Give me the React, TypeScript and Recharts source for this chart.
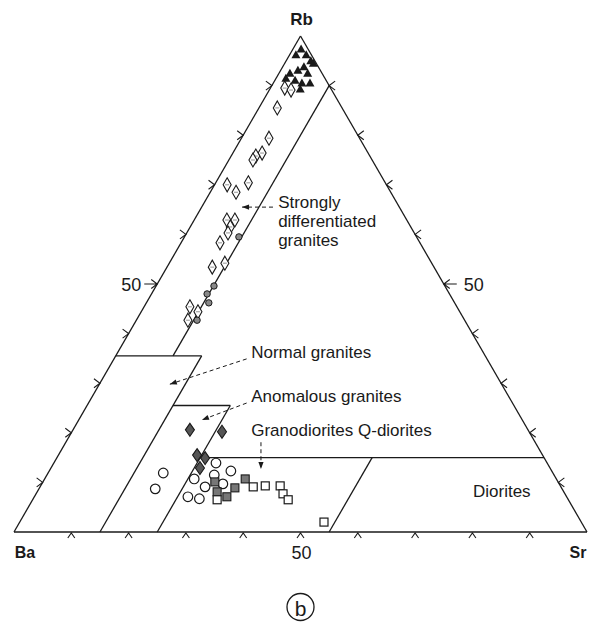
import React from 'react';
import { ScatterChart, Scatter, XAxis, YAxis, ReferenceLine, ReferenceDot } from 'recharts';

// Ternary compositions [Ba, Sr, Rb] in %
type T = [number, number, number];

const filledTriangles: T[] = [
  [1.2, 1.4, 97.4], [2.7, 1.1, 96.2], [0.9, 2.9, 96.2], [0.7, 4.3, 95.0], [0.5, 5.0, 94.5],
  [2.5, 3.7, 93.8], [3.9, 3.0, 93.1], [2.5, 5.0, 92.5], [5.6, 1.9, 92.5], [6.8, 1.7, 91.5],
  [5.4, 3.5, 91.1], [4.5, 5.0, 90.5], [3.1, 6.4, 90.5], [5.4, 5.3, 89.3],
];
const openDiamonds: T[] = [
  [8.0, 2.5, 89.5], [7.1, 3.8, 89.1], [11.3, 3.2, 85.5], [15.8, 4.8, 79.4], [18.5, 5.1, 76.4],
  [19.9, 4.3, 75.8], [20.8, 4.2, 75.0], [27.8, 2.2, 70.0], [23.9, 5.7, 70.4], [27.0, 4.5, 68.5],
  [31.4, 5.7, 62.9], [30.0, 7.1, 62.9], [31.5, 7.0, 61.5], [32.5, 7.2, 60.3], [34.9, 6.8, 58.3],
  [38.7, 7.9, 53.4], [36.1, 9.7, 54.2], [46.6, 8.0, 45.4], [45.7, 9.9, 44.4], [48.3, 9.0, 42.7],
];
const shadedDots: T[] = [
  [31.0, 9.5, 59.5], [40.3, 10.1, 49.6], [42.3, 9.7, 48.0], [42.9, 10.9, 46.2], [46.7, 10.6, 42.7],
];
const shadedDiamonds: T[] = [
  [59.0, 20.4, 20.6], [53.6, 26.2, 20.2], [60.3, 24.2, 15.5], [59.2, 25.9, 14.9], [61.1, 26.0, 12.9],
];
const openCircles: T[] = [
  [57.8, 28.3, 13.9], [68.0, 20.1, 11.9], [71.0, 20.3, 8.7], [63.2, 26.1, 10.7], [59.3, 29.2, 11.5],
  [56.0, 31.7, 12.3], [62.1, 28.8, 9.1], [58.7, 31.6, 9.7], [66.1, 26.8, 7.1], [64.3, 29.0, 6.7],
];
const shadedSquares: T[] = [
  [59.9, 30.0, 10.1], [60.5, 31.4, 8.1], [59.3, 33.6, 7.1], [57.0, 34.1, 8.9], [54.3, 35.0, 10.7],
];
const openSquares: T[] = [
  [61.3, 32.2, 6.5], [53.7, 37.2, 9.1], [51.5, 39.2, 9.3], [48.9, 41.8, 9.3], [49.2, 43.1, 7.7],
  [48.9, 44.6, 6.5], [44.9, 53.1, 2.0],
];

// Triangle corners and field boundaries [Ba, Sr, Rb]
const corners: T[] = [[100, 0, 0], [0, 100, 0], [0, 0, 100]];
const fieldBoundaries: [T, T][] = [
  [[0, 10, 90], [54.5, 10, 35.5]],
  [[64.5, 0, 35.5], [49.5, 15, 35.5]],
  [[49.5, 15, 35.5], [85, 15, 0]],
  [[59.5, 15, 25.5], [49.5, 25, 25.5]],
  [[49.5, 25, 25.5], [75, 25, 0]],
  [[60, 25, 15], [0, 85, 15]],
  [[30, 55, 15], [45, 55, 0]],
];

const tickPercents = [10, 20, 30, 40, 50, 60, 70, 80, 90];
const labelledTick = 50;
const cornerNames = ['Ba', 'Sr', 'Rb'];
const panelLetter = 'b';

// Annotations (chart coords: x = Sr + Rb/2, y = Rb)
const fieldLabels: { lines: string[]; at: [number, number] }[] = [
  { lines: ['Strongly', 'differentiated', 'granites'], at: [46.1, 66.5] },
  { lines: ['Normal granites'], at: [41.4, 36.1] },
  { lines: ['Anomalous granites'], at: [41.4, 27.4] },
  { lines: ['Granodiorites Q-diorites'], at: [41.4, 20.4] },
  { lines: ['Diorites'], at: [80.1, 8.1] },
];
const leaders: [[number, number], [number, number]][] = [
  [[45.2, 65.5], [39.8, 65.5]],
  [[40.6, 34.9], [27.2, 29.8]],
  [[40.6, 26.0], [32.8, 22.6]],
  [[43.1, 18.1], [43.1, 12.7]],
];

const W = 598, H = 635;
const M = { top: 36, right: 11, bottom: 103, left: 14 };
const UX = (W - M.left - M.right) / 100;
const UY = (H - M.top - M.bottom) / 100;
const INK = '#1a1a1a';
const FONT = '"Liberation Sans", Arial, Helvetica, sans-serif';

const toXY = (t: T) => {
  const s = t[0] + t[1] + t[2];
  return { x: ((t[1] + t[2] / 2) * 100) / s, y: (t[2] * 100) / s };
};
const series = (arr: T[]) => arr.map(toXY);

const TriangleShape = (p: any) => (
  <path d={`M${p.cx},${p.cy - 4.5}L${p.cx + 4.5},${p.cy + 3.5}L${p.cx - 4.5},${p.cy + 3.5}Z`} fill={INK} />
);
const OpenDiamondShape = (p: any) => (
  <g>
    <path d={`M${p.cx},${p.cy - 7}L${p.cx + 4},${p.cy}L${p.cx},${p.cy + 7}L${p.cx - 4},${p.cy}Z`} fill="#fff" stroke={INK} strokeWidth={1.1} />
    <line x1={p.cx - 2} y1={p.cy} x2={p.cx + 2} y2={p.cy} stroke="#777" strokeWidth={0.8} />
  </g>
);
const ShadedDotShape = (p: any) => <circle cx={p.cx} cy={p.cy} r={3.2} fill="#888" stroke={INK} strokeWidth={1} />;
const ShadedDiamondShape = (p: any) => (
  <path d={`M${p.cx},${p.cy - 6.5}L${p.cx + 4.5},${p.cy}L${p.cx},${p.cy + 6.5}L${p.cx - 4.5},${p.cy}Z`} fill="#555" stroke={INK} strokeWidth={1.1} />
);
const OpenCircleShape = (p: any) => <circle cx={p.cx} cy={p.cy} r={4.8} fill="#fff" stroke={INK} strokeWidth={1.2} />;
const ShadedSquareShape = (p: any) => (
  <rect x={p.cx - 4} y={p.cy - 4} width={8} height={8} fill="#777" stroke={INK} strokeWidth={1.1} />
);
const OpenSquareShape = (p: any) => (
  <rect x={p.cx - 4} y={p.cy - 4} width={8} height={8} fill="#fff" stroke={INK} strokeWidth={1.2} />
);

const Chevron = (dir: 'left' | 'right' | 'down', stub: boolean) => (p: any) => {
  const { cx, cy } = p;
  let d = '';
  if (dir === 'left') d = `M${cx - 6},${cy - 4.5}L${cx},${cy}L${cx - 6},${cy + 4.5}` + (stub ? `M${cx},${cy}L${cx - 13},${cy}` : '');
  if (dir === 'right') d = `M${cx + 6},${cy - 4.5}L${cx},${cy}L${cx + 6},${cy + 4.5}` + (stub ? `M${cx},${cy}L${cx + 13},${cy}` : '');
  if (dir === 'down') d = `M${cx - 3.5},${cy + 6}L${cx},${cy + 1}L${cx + 3.5},${cy + 6}`;
  return <path d={d} fill="none" stroke={INK} strokeWidth={1.1} />;
};

const TextShape = (text: string, dx: number, dy: number, anchor: string, size: number, weight: string) => (p: any) => (
  <text x={p.cx + dx} y={p.cy + dy} textAnchor={anchor} dominantBaseline="central" fontFamily={FONT} fontSize={size} fontWeight={weight} fill={INK}>
    {text}
  </text>
);

const MultiLineText = (lines: string[]) => (p: any) => (
  <text x={p.cx} y={p.cy} fontFamily={FONT} fontSize={17} fill={INK}>
    {lines.map((l, i) => (
      <tspan key={i} x={p.cx} y={p.cy + i * 19} dominantBaseline="central">{l}</tspan>
    ))}
  </text>
);

const ArrowHead = (angle: number) => (p: any) => {
  const { cx, cy } = p;
  const L = 7, Wd = 2.6;
  const ca = Math.cos(angle), sa = Math.sin(angle);
  const bx = cx - L * ca, by = cy - L * sa;
  const px = -sa * Wd, py = ca * Wd;
  return <path d={`M${cx},${cy}L${bx + px},${by + py}L${bx - px},${by - py}Z`} fill={INK} />;
};

const PanelBadge = (p: any) => (
  <g>
    <circle cx={p.cx} cy={p.cy + 75} r={13.5} fill="none" stroke={INK} strokeWidth={1.3} />
    <text x={p.cx} y={p.cy + 76} textAnchor="middle" dominantBaseline="central" fontFamily={FONT} fontSize={21} fill={INK}>
      {panelLetter}
    </text>
  </g>
);

export default function App() {
  const cornerXY = corners.map(toXY);
  return (
    <div style={{ position: 'absolute', left: 0, top: 0, background: '#fff' }}>
      <ScatterChart width={W} height={H} margin={M}>
        <XAxis type="number" dataKey="x" domain={[0, 100]} hide />
        <YAxis type="number" dataKey="y" domain={[0, 100]} hide />

        {cornerXY.map((c, i) => {
          const n = cornerXY[(i + 1) % 3];
          return (
            <ReferenceLine key={`e${i}`} segment={[{ x: c.x, y: c.y }, { x: n.x, y: n.y }]} stroke={INK} strokeWidth={1.3} ifOverflow="visible" />
          );
        })}
        {fieldBoundaries.map(([a, b], i) => {
          const pa = toXY(a), pb = toXY(b);
          return (
            <ReferenceLine key={`f${i}`} segment={[{ x: pa.x, y: pa.y }, { x: pb.x, y: pb.y }]} stroke={INK} strokeWidth={1.3} ifOverflow="visible" />
          );
        })}

        {tickPercents.map((v) => {
          const b = toXY([100 - v, v, 0]);
          return <ReferenceDot key={`tb${v}`} x={b.x} y={b.y} r={0} ifOverflow="visible" shape={Chevron('down', false)} />;
        })}
        {tickPercents.map((v) => {
          const l = toXY([100 - v, 0, v]);
          return <ReferenceDot key={`tl${v}`} x={l.x} y={l.y} r={0} ifOverflow="visible" shape={Chevron('left', v === labelledTick)} />;
        })}
        {tickPercents.map((v) => {
          const r = toXY([0, 100 - v, v]);
          return <ReferenceDot key={`tr${v}`} x={r.x} y={r.y} r={0} ifOverflow="visible" shape={Chevron('right', v === labelledTick)} />;
        })}

        {(() => {
          const l = toXY([100 - labelledTick, 0, labelledTick]);
          const r = toXY([0, 100 - labelledTick, labelledTick]);
          const b = toXY([100 - labelledTick, labelledTick, 0]);
          return [
            <ReferenceDot key="ll" x={l.x} y={l.y} r={0} ifOverflow="visible" shape={TextShape(String(labelledTick), -16, 1, 'end', 18, 'normal')} />,
            <ReferenceDot key="lr" x={r.x} y={r.y} r={0} ifOverflow="visible" shape={TextShape(String(labelledTick), 20, 1, 'start', 18, 'normal')} />,
            <ReferenceDot key="lb" x={b.x} y={b.y} r={0} ifOverflow="visible" shape={TextShape(String(labelledTick), 1, 21, 'middle', 18, 'normal')} />,
            <ReferenceDot key="badge" x={b.x} y={b.y} r={0} ifOverflow="visible" shape={PanelBadge} />,
          ];
        })()}

        <ReferenceDot x={cornerXY[0].x} y={cornerXY[0].y} r={0} ifOverflow="visible" shape={TextShape(cornerNames[0], 11, 20, 'middle', 16, 'bold')} />
        <ReferenceDot x={cornerXY[1].x} y={cornerXY[1].y} r={0} ifOverflow="visible" shape={TextShape(cornerNames[1], -9, 20, 'middle', 16, 'bold')} />
        <ReferenceDot x={cornerXY[2].x} y={cornerXY[2].y} r={0} ifOverflow="visible" shape={TextShape(cornerNames[2], 1, -17, 'middle', 17, 'bold')} />

        {fieldLabels.map((f, i) => (
          <ReferenceDot key={`fl${i}`} x={f.at[0]} y={f.at[1]} r={0} ifOverflow="visible" shape={MultiLineText(f.lines)} />
        ))}
        {leaders.map(([a, b], i) => (
          <ReferenceLine key={`ld${i}`} segment={[{ x: a[0], y: a[1] }, { x: b[0], y: b[1] }]} stroke={INK} strokeWidth={1} strokeDasharray="4 3" ifOverflow="visible" />
        ))}
        {leaders.map(([a, b], i) => {
          const ang = Math.atan2(-(b[1] - a[1]) * UY, (b[0] - a[0]) * UX);
          return <ReferenceDot key={`ah${i}`} x={b[0]} y={b[1]} r={0} ifOverflow="visible" shape={ArrowHead(ang)} />;
        })}

        <Scatter data={series(openDiamonds)} shape={OpenDiamondShape} isAnimationActive={false} />
        <Scatter data={series(shadedDots)} shape={ShadedDotShape} isAnimationActive={false} />
        <Scatter data={series(filledTriangles)} shape={TriangleShape} isAnimationActive={false} />
        <Scatter data={series(openCircles)} shape={OpenCircleShape} isAnimationActive={false} />
        <Scatter data={series(shadedDiamonds)} shape={ShadedDiamondShape} isAnimationActive={false} />
        <Scatter data={series(shadedSquares)} shape={ShadedSquareShape} isAnimationActive={false} />
        <Scatter data={series(openSquares)} shape={OpenSquareShape} isAnimationActive={false} />
      </ScatterChart>
    </div>
  );
}
